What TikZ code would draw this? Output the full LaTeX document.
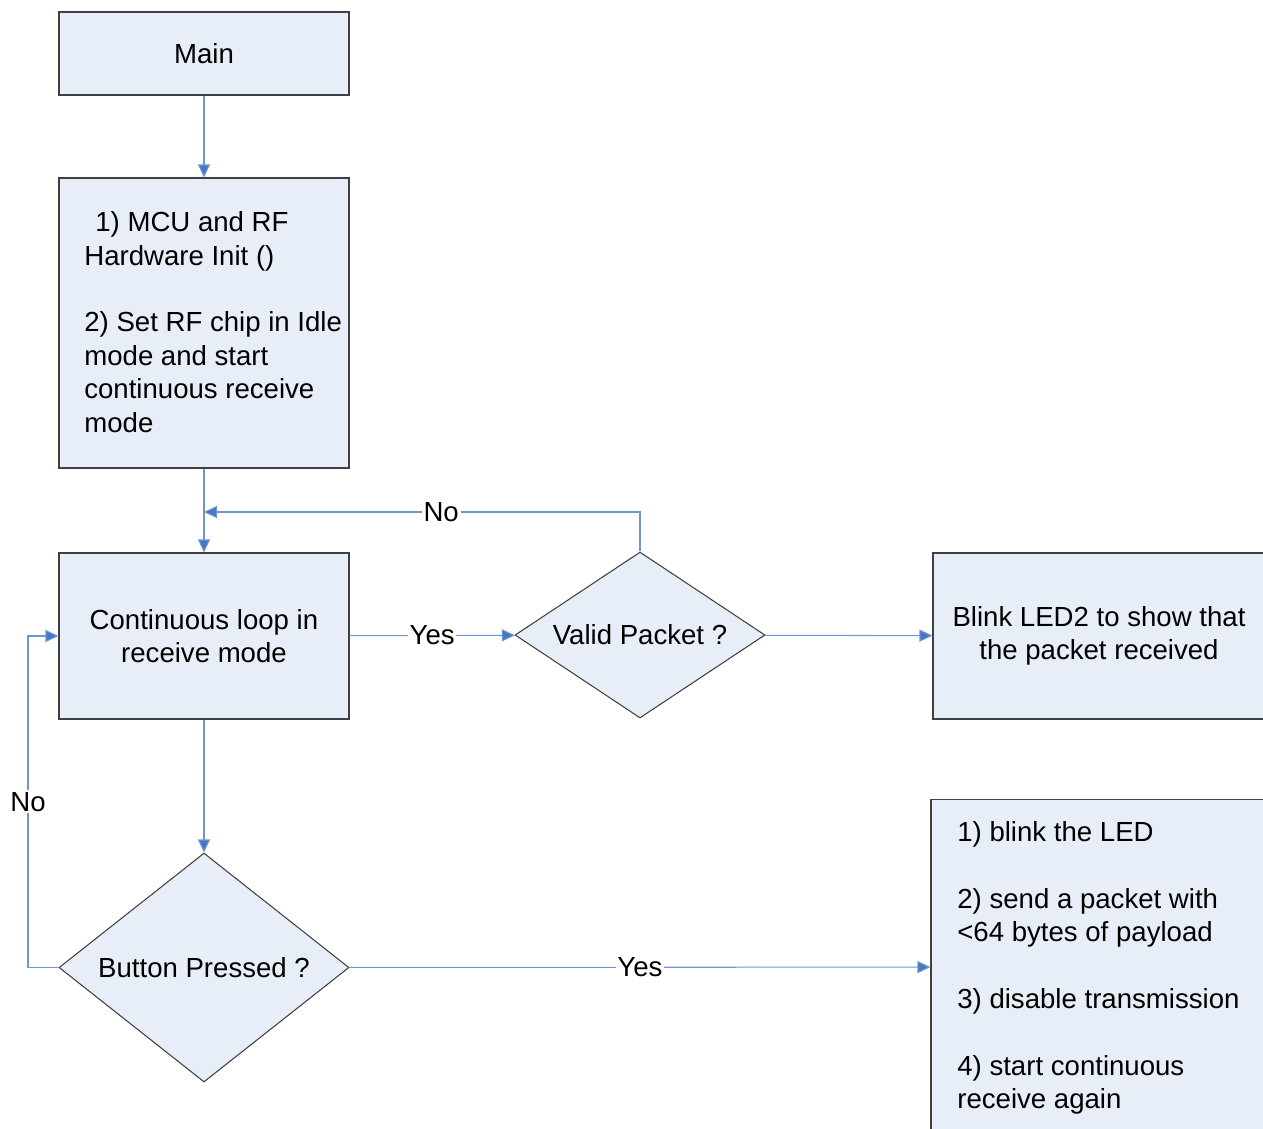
\documentclass[tikz,border=0pt]{standalone}
\usepackage{fontspec}
\setmainfont{Liberation Sans}
\usetikzlibrary{arrows.meta,shapes.geometric}
\definecolor{boxfill}{HTML}{E8EEF7}
\definecolor{boxline}{HTML}{404040}
\definecolor{flowline}{HTML}{6F96D2}
\definecolor{flowtip}{HTML}{4677C4}
\begin{document}
\begin{tikzpicture}[
	font=\fontsize{15.7}{19}\selectfont,
	blk/.style={draw=boxline, fill=boxfill, line width=0.6pt, minimum width=5.8cm, inner sep=0pt},
	dec/.style={diamond, draw=boxline, fill=boxfill, line width=0.6pt, inner sep=0pt},
	txt/.style={align=left, inner sep=0pt},
	flow/.style={draw=flowline, line width=0.6pt, -{Triangle[length=0.26cm,width=0.24cm,fill=flowtip]}},
	lbl/.style={fill=white, inner sep=1pt}
]
	\useasboundingbox (0,0) rectangle (25.26,-22.56);
	% boxes
	\node[blk, minimum height=1.66cm] (main) at (4.08,-1.07) {Main};
	\node[blk, minimum height=5.8cm] (init) at (4.08,-6.46) {};
	\node[txt, anchor=west] (inittxt) at (1.68,-6.44) {\hspace*{0.22cm}1) MCU and RF\\Hardware Init ()\\[19pt]2) Set RF chip in Idle\\mode and start\\continuous receive\\mode};
	\node[blk, minimum height=3.32cm, align=center] (loop) at (4.08,-12.72) {Continuous loop in\\receive mode};
	\node[dec, aspect=1.5, minimum width=5cm, minimum height=3.32cm] (valid) at (12.8,-12.7) {Valid Packet ?};
	\node[blk, minimum width=6.64cm, minimum height=3.32cm, align=center] (blink) at (21.98,-12.72) {Blink LED2 to show that\\the packet received};
	\node[dec, aspect=1.27, minimum width=5.8cm, minimum height=4.58cm] (button) at (4.08,-19.35) {Button Pressed ?};
	\node[blk, minimum width=6.7cm, minimum height=6.7cm] (send) at (21.97,-19.34) {};
	\node[txt, anchor=west] (sendtxt) at (19.14,-19.36) {1) blink the LED\\[19pt]2) send a packet with\\<64 bytes of payload\\[19pt]3) disable transmission\\[19pt]4) start continuous\\receive again};
	% joints
	\coordinate (nojoin) at (4.08,-10.24);
	\coordinate (backleft) at (0.56,-19.35);
	% connectors
	\draw[flow] (main) -- (init);
	\draw[flow] (init) -- (loop);
	\draw[flow] (valid.north) |- node[lbl, pos=0.728] {No} (nojoin);
	\draw[flow] (loop) -- node[lbl] {Yes} (valid);
	\draw[flow] (valid) -- (blink);
	\draw[flow] (loop) -- (button);
	\draw[flow] (button.west) -- (backleft) |- node[lbl, pos=0.25] {No} (loop.west);
	\draw[flow] (button) -- node[lbl] {Yes} (send);
\end{tikzpicture}
\end{document}
